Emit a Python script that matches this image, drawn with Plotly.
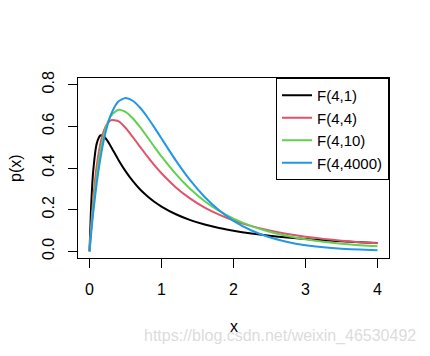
import plotly.graph_objects as go

# x grid and densities
x_vals = [0, 0.02, 0.05, 0.1, 0.15, 0.2, 0.25, 0.3, 0.4, 0.5, 0.6, 0.7, 0.8, 0.9, 1.0,
          1.2, 1.4, 1.6, 1.8, 2.0, 2.25, 2.5, 2.75, 3.0, 3.25, 3.5, 3.75, 4.0]

f_4_1 = [0, 0.198, 0.380, 0.517, 0.556, 0.552, 0.530, 0.501, 0.440, 0.385, 0.338, 0.298,
         0.266, 0.238, 0.215, 0.178, 0.150, 0.129, 0.112, 0.0988, 0.0854, 0.0748, 0.0662,
         0.0591, 0.0532, 0.0482, 0.0439, 0.0403]
f_4_4 = [0, 0.111, 0.247, 0.410, 0.515, 0.579, 0.614, 0.630, 0.625, 0.593, 0.549, 0.503,
         0.457, 0.414, 0.375, 0.307, 0.253, 0.210, 0.176, 0.148, 0.121, 0.100, 0.0834,
         0.0703, 0.0598, 0.0512, 0.0442, 0.0384]
f_4_10 = [0, 0.0908, 0.2089, 0.3648, 0.4788, 0.5602, 0.6158, 0.6514, 0.6794, 0.6698, 0.6389,
          0.5969, 0.5499, 0.5020, 0.4553, 0.3703, 0.2989, 0.2407, 0.1940, 0.1568, 0.1208,
          0.0938, 0.0733, 0.0577, 0.0458, 0.0366, 0.0295, 0.0239]
f_4_4000 = [0, 0.0769, 0.1810, 0.3275, 0.4445, 0.5363, 0.6065, 0.6586, 0.7189, 0.7358, 0.7229,
            0.6905, 0.6461, 0.5951, 0.5413, 0.4354, 0.3405, 0.2609, 0.1967, 0.1465, 0.1000,
            0.0674, 0.0450, 0.0297, 0.0195, 0.0128, 0.0083, 0.0054]

series_names = ["F(4,1)", "F(4,4)", "F(4,10)", "F(4,4000)"]
series_values = [f_4_1, f_4_4, f_4_10, f_4_4000]
series_colors = ["#000000", "#DF536B", "#61D04F", "#2297E6"]

x_ticks = [0, 1, 2, 3, 4]
y_ticks = [0.0, 0.2, 0.4, 0.6, 0.8]

FONT = "Liberation Sans, Arial, sans-serif"

fig = go.Figure()
for name, vals, col in zip(series_names, series_values, series_colors):
    fig.add_trace(go.Scatter(x=x_vals, y=vals, mode="lines", name=name,
                             line=dict(color=col, width=2, shape="spline", smoothing=0.6)))

axis_common = dict(showgrid=False, zeroline=False, showline=True, mirror=True,
                   linecolor="black", linewidth=1, ticks="outside", ticklen=9,
                   tickcolor="black", tickwidth=1, tickfont=dict(family=FONT, size=16, color="black"),
                   ticklabelstandoff=8)

fig.update_xaxes(range=[-0.16, 4.16], tickvals=x_ticks, **axis_common)
fig.update_yaxes(range=[-0.032, 0.832], tickvals=y_ticks, tickformat=".1f", tickangle=-90,
                 **axis_common)

# the page body adds an 8px offset, so the figure is 8px smaller on each axis
fig.update_layout(
    width=422, height=348,
    margin=dict(l=70, r=41, t=70, b=98),
    plot_bgcolor="white", paper_bgcolor="white",
    font=dict(family=FONT, size=16, color="black"),
    legend=dict(x=1, xanchor="right", y=1, yanchor="top",
                bordercolor="black", borderwidth=1, bgcolor="white",
                font=dict(family=FONT, size=15, color="black"),
                tracegroupgap=0, itemwidth=30, entrywidth=92),
    annotations=[
        dict(text="x", xref="paper", yref="paper", x=0.5, y=0, xanchor="center",
             yanchor="middle", yshift=-68, showarrow=False,
             font=dict(family=FONT, size=16, color="black")),
        dict(text="p(x)", xref="paper", yref="paper", x=0, y=0.5, xanchor="center",
             yanchor="middle", xshift=-63, textangle=-90, showarrow=False,
             font=dict(family=FONT, size=16, color="black")),
        dict(text="https://blog.csdn.net/weixin_46530492", xref="paper", yref="paper",
             x=1, y=0, xanchor="right", yanchor="middle", xshift=29, yshift=-78,
             showarrow=False, font=dict(family=FONT, size=16, color="#dcdcdc")),
    ],
)

fig.write_html("out.html")
